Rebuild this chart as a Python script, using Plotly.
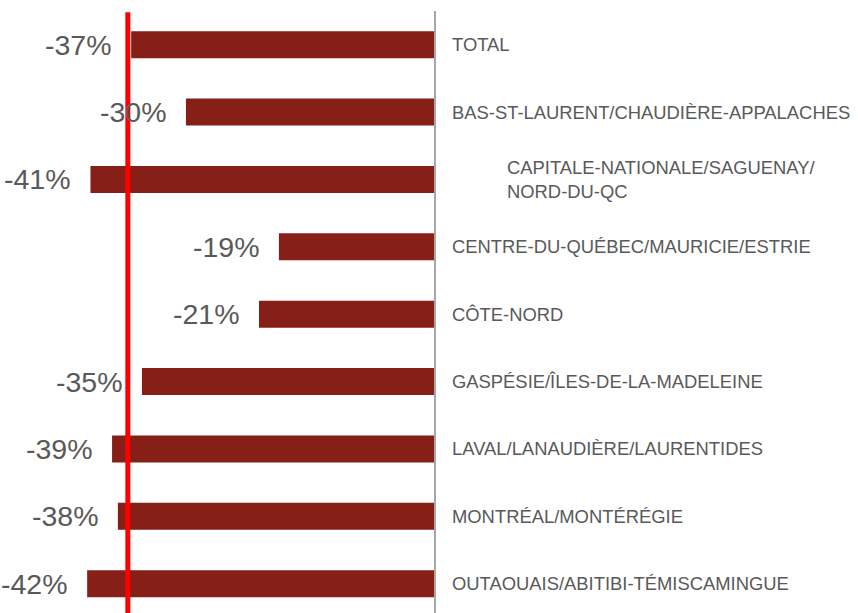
import plotly.graph_objects as go

categories = [
    "TOTAL",
    "BAS-ST-LAURENT/CHAUDIÈRE-APPALACHES",
    "CAPITALE-NATIONALE/SAGUENAY/<br>NORD-DU-QC",
    "CENTRE-DU-QUÉBEC/MAURICIE/ESTRIE",
    "CÔTE-NORD",
    "GASPÉSIE/ÎLES-DE-LA-MADELEINE",
    "LAVAL/LANAUDIÈRE/LAURENTIDES",
    "MONTRÉAL/MONTÉRÉGIE",
    "OUTAOUAIS/ABITIBI-TÉMISCAMINGUE",
]
values = [-36.6, -30.0, -41.5, -18.8, -21.2, -35.3, -38.9, -38.2, -41.9]
value_labels = ["-37%", "-30%", "-41%", "-19%", "-21%", "-35%", "-39%", "-38%", "-42%"]
reference_value = -37.0

ypos = list(range(len(categories)))

fig = go.Figure()
fig.add_trace(go.Bar(
    x=values, y=ypos, orientation="h",
    marker=dict(color="#861F17", line=dict(width=0)),
    width=0.4, hoverinfo="skip",
))

annotations = []
for i, (cat, v, lab) in enumerate(zip(categories, values, value_labels)):
    annotations.append(dict(
        x=v - 2.05, y=i, xref="x", yref="y", text=lab, showarrow=False,
        xanchor="right", yanchor="middle",
        font=dict(family="Liberation Sans, Arial", size=28.5, color="#595959"),
    ))
    multi = "<br>" in cat
    annotations.append(dict(
        x=8.45 if multi else 1.75, y=i, xref="x", yref="y", text=cat, showarrow=False,
        xanchor="left", yanchor="middle", align="left",
        font=dict(family="Liberation Sans, Arial", size=18.4, color="#595959"),
    ))

shapes = [
    dict(type="line", xref="x", yref="paper", x0=0, x1=0, y0=0, y1=1.0,
         line=dict(color="#A6A6A6", width=2)),
    dict(type="line", xref="x", yref="paper", x0=reference_value, x1=reference_value,
         y0=0, y1=0.998, line=dict(color="#FF0000", width=5)),
]

fig.update_layout(
    width=858, height=613,
    margin=dict(l=0, r=0, t=11, b=0),
    paper_bgcolor="white", plot_bgcolor="white",
    showlegend=False,
    xaxis=dict(range=[-52.4, 50.96], visible=False, fixedrange=True),
    yaxis=dict(range=[8.435, -0.5], visible=False, fixedrange=True),
    annotations=annotations,
    shapes=shapes,
)

fig.write_html(
    "out.html",
    config={"displayModeBar": False},
    post_script="document.body.style.margin='0';document.body.style.overflow='hidden';",
)
